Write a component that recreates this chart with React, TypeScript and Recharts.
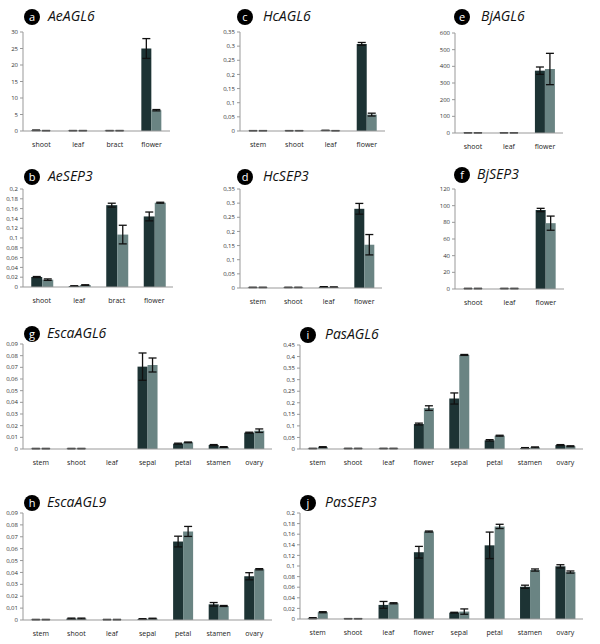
import { BarChart, Bar, XAxis, YAxis, ErrorBar } from 'recharts'

const DARK = '#1d3334'
const LIGHT = '#6a8483'

// a  AeAGL6
const aCats = ['shoot', 'leaf', 'bract', 'flower']
const aDark = [0.2, 0.1, 0.1, 25]
const aDarkErr = [0.1, 0.05, 0.05, 3]
const aLight = [0.1, 0.1, 0.1, 6.3]
const aLightErr = [0.05, 0.05, 0.05, 0.2]
const aTicks = [0, 5, 10, 15, 20, 25, 30]

// c  HcAGL6
const cCats = ['stem', 'shoot', 'leaf', 'flower']
const cDark = [0.001, 0.001, 0.002, 0.308]
const cDarkErr = [0.0005, 0.0005, 0.0005, 0.005]
const cLight = [0.001, 0.001, 0.001, 0.058]
const cLightErr = [0.0005, 0.0005, 0.0005, 0.005]
const cTicks = [0, 0.05, 0.1, 0.15, 0.2, 0.25, 0.3, 0.35]

// e  BjAGL6
const eCats = ['shoot', 'leaf', 'flower']
const eDark = [1, 1, 374]
const eDarkErr = [1, 1, 22]
const eLight = [1, 1, 384]
const eLightErr = [1, 1, 94]
const eTicks = [0, 100, 200, 300, 400, 500, 600]

// b  AeSEP3
const bCats = ['shoot', 'leaf', 'bract', 'flower']
const bDark = [0.0204, 0.002, 0.167, 0.144]
const bDarkErr = [0.001, 0.0005, 0.004, 0.009]
const bLight = [0.015, 0.004, 0.107, 0.172]
const bLightErr = [0.0015, 0.0005, 0.019, 0.001]
const bTicks = [0, 0.02, 0.04, 0.06, 0.08, 0.1, 0.12, 0.14, 0.16, 0.18, 0.2]

// d  HcSEP3
const dCats = ['stem', 'shoot', 'leaf', 'flower']
const dDark = [0.002, 0.002, 0.004, 0.28]
const dDarkErr = [0.0007, 0.0007, 0.0007, 0.019]
const dLight = [0.002, 0.002, 0.003, 0.153]
const dLightErr = [0.0007, 0.0007, 0.0007, 0.036]
const dTicks = [0, 0.05, 0.1, 0.15, 0.2, 0.25, 0.3, 0.35]

// f  BjSEP3
const fCats = ['shoot', 'leaf', 'flower']
const fDark = [0.5, 0.5, 94.8]
const fDarkErr = [0.3, 0.3, 2]
const fLight = [0.5, 0.5, 79]
const fLightErr = [0.3, 0.3, 8.5]
const fTicks = [0, 20, 40, 60, 80, 100, 120]

// g  EscaAGL6
const gCats = ['stem', 'shoot', 'leaf', 'sepal', 'petal', 'stamen', 'ovary']
const gDark = [0.0003, 0.0003, 0, 0.0706, 0.0046, 0.0034, 0.014]
const gDarkErr = [0.0002, 0.0002, 0, 0.0117, 0.0004, 0.0004, 0.0004]
const gLight = [0.0003, 0.0003, 0, 0.072, 0.0057, 0.0017, 0.0157]
const gLightErr = [0.0002, 0.0002, 0, 0.006, 0.0003, 0.0003, 0.0015]
const gTicks = [0, 0.01, 0.02, 0.03, 0.04, 0.05, 0.06, 0.07, 0.08, 0.09]

// i  PasAGL6
const iCats = ['stem', 'shoot', 'leaf', 'flower', 'sepal', 'petal', 'stamen', 'ovary']
const iDark = [0.002, 0.002, 0.002, 0.108, 0.2185, 0.0374, 0.004, 0.017]
const iDarkErr = [0.001, 0.001, 0.001, 0.004, 0.024, 0.003, 0.002, 0.002]
const iLight = [0.008, 0.002, 0.002, 0.177, 0.407, 0.0575, 0.007, 0.012]
const iLightErr = [0.002, 0.001, 0.001, 0.01, 0.002, 0.002, 0.002, 0.002]
const iTicks = [0, 0.05, 0.1, 0.15, 0.2, 0.25, 0.3, 0.35, 0.4, 0.45]

// h  EscaAGL9
const hCats = ['stem', 'shoot', 'leaf', 'sepal', 'petal', 'stamen', 'ovary']
const hDark = [0.0003, 0.0012, 0.0003, 0.0008, 0.066, 0.0132, 0.0368]
const hDarkErr = [0.0002, 0.0004, 0.0002, 0.0003, 0.0045, 0.0015, 0.003]
const hLight = [0.0003, 0.0012, 0.0003, 0.0012, 0.0745, 0.0118, 0.0427]
const hLightErr = [0.0002, 0.0004, 0.0002, 0.0003, 0.0042, 0.0004, 0.0005]
const hTicks = [0, 0.01, 0.02, 0.03, 0.04, 0.05, 0.06, 0.07, 0.08, 0.09]

// j  PasSEP3
const jCats = ['stem', 'shoot', 'leaf', 'flower', 'sepal', 'petal', 'stamen', 'ovary']
const jDark = [0.0015, 0.0005, 0.0266, 0.126, 0.012, 0.139, 0.0608, 0.0994]
const jDarkErr = [0.001, 0.0003, 0.0065, 0.011, 0.0007, 0.025, 0.003, 0.003]
const jLight = [0.0128, 0.0005, 0.0297, 0.165, 0.014, 0.1747, 0.0924, 0.0886]
const jLightErr = [0.001, 0.0003, 0.001, 0.001, 0.005, 0.004, 0.002, 0.002]
const jTicks = [0, 0.02, 0.04, 0.06, 0.08, 0.1, 0.12, 0.14, 0.16, 0.18, 0.2]

const fmt = (v: number) => String(v).replace('.', ',')

type PanelProps = {
  letter: string
  title: string
  cats: string[]
  dark: number[]
  darkErr: number[]
  light: number[]
  lightErr: number[]
  ticks: number[]
  x0: number
  x1: number
  y0: number
  y1: number
  bx: number
  by: number
  tx: number
}

function Panel(p: PanelProps) {
  const data = p.cats.map((c, i) => ({ c, d: p.dark[i], de: p.darkErr[i], l: p.light[i], le: p.lightErr[i] }))
  const yw = 30
  const mt = 6
  const xh = 22
  const w = p.x1 - p.x0 + yw + 4
  const h = p.y1 - p.y0 + mt + xh
  const top = p.ticks[p.ticks.length - 1]
  return (
    <>
      <div style={{ position: 'absolute', left: p.bx - 8, top: p.by - 8, width: 16, height: 16, borderRadius: 8, background: '#000', color: '#fff', fontSize: 11, lineHeight: '15px', textAlign: 'center', fontFamily: 'Open Sans, sans-serif' }}>{p.letter}</div>
      <div style={{ position: 'absolute', left: p.tx, top: p.by - 10, fontSize: 14, lineHeight: '18px', fontStyle: 'italic', color: '#111', fontFamily: 'Open Sans, sans-serif' }}>{p.title}</div>
      <div style={{ position: 'absolute', left: p.x0 - yw, top: p.y0 - mt }}>
        <BarChart width={w} height={h} data={data} margin={{ top: mt, right: 4, left: 0, bottom: 0 }} barCategoryGap="22%" barGap={0}>
          <XAxis dataKey="c" height={xh} tickLine={false} axisLine={{ stroke: '#999' }} tick={{ fontSize: 7, fill: '#222' }} tickSize={9} interval={0} />
          <YAxis width={yw} domain={[0, top]} ticks={p.ticks} tickFormatter={fmt} axisLine={{ stroke: '#999' }} tickLine={{ stroke: '#999' }} tickSize={3} tick={{ fontSize: 6, fill: '#333' }} interval={0} />
          <Bar dataKey="d" fill={DARK} isAnimationActive={false}>
            <ErrorBar dataKey="de" width={4} stroke="#111" strokeWidth={1.3} />
          </Bar>
          <Bar dataKey="l" fill={LIGHT} isAnimationActive={false}>
            <ErrorBar dataKey="le" width={4} stroke="#111" strokeWidth={1.3} />
          </Bar>
        </BarChart>
      </div>
    </>
  )
}

export default function App() {
  return (
    <div style={{ position: 'absolute', left: 0, top: 0, width: 600, height: 644, background: '#fff', fontFamily: 'Open Sans, sans-serif' }}>
      <Panel letter="a" title="AeAGL6" cats={aCats} dark={aDark} darkErr={aDarkErr} light={aLight} lightErr={aLightErr} ticks={aTicks} x0={23} x1={170} y0={32} y1={131} bx={32} by={17} tx={48} />
      <Panel letter="c" title="HcAGL6" cats={cCats} dark={cDark} darkErr={cDarkErr} light={cLight} lightErr={cLightErr} ticks={cTicks} x0={240} x1={385} y0={32} y1={131} bx={245} by={17} tx={263} />
      <Panel letter="e" title="BjAGL6" cats={eCats} dark={eDark} darkErr={eDarkErr} light={eLight} lightErr={eLightErr} ticks={eTicks} x0={455} x1={563} y0={33} y1={133} bx={462} by={17} tx={481} />
      <Panel letter="b" title="AeSEP3" cats={bCats} dark={bDark} darkErr={bDarkErr} light={bLight} lightErr={bLightErr} ticks={bTicks} x0={23} x1={173} y0={189} y1={287} bx={32} by={177} tx={48} />
      <Panel letter="d" title="HcSEP3" cats={dCats} dark={dDark} darkErr={dDarkErr} light={dLight} lightErr={dLightErr} ticks={dTicks} x0={240} x1={382} y0={189} y1={288} bx={245} by={177} tx={263} />
      <Panel letter="f" title="BjSEP3" cats={fCats} dark={fDark} darkErr={fDarkErr} light={fLight} lightErr={fLightErr} ticks={fTicks} x0={455} x1={564} y0={189} y1={289} bx={462} by={175} tx={477} />
      <Panel letter="g" title="EscaAGL6" cats={gCats} dark={gDark} darkErr={gDarkErr} light={gLight} lightErr={gLightErr} ticks={gTicks} x0={23} x1={272} y0={344} y1={449} bx={32} by={334} tx={47} />
      <Panel letter="i" title="PasAGL6" cats={iCats} dark={iDark} darkErr={iDarkErr} light={iLight} lightErr={iLightErr} ticks={iTicks} x0={300} x1={583} y0={345} y1={449} bx={308} by={335} tx={325} />
      <Panel letter="h" title="EscaAGL9" cats={hCats} dark={hDark} darkErr={hDarkErr} light={hLight} lightErr={hLightErr} ticks={hTicks} x0={23} x1={272} y0={513} y1={620} bx={32} by={503} tx={47} />
      <Panel letter="j" title="PasSEP3" cats={jCats} dark={jDark} darkErr={jDarkErr} light={jLight} lightErr={jLightErr} ticks={jTicks} x0={300} x1={583} y0={513} y1={619} bx={308} by={503} tx={325} />
    </div>
  )
}
